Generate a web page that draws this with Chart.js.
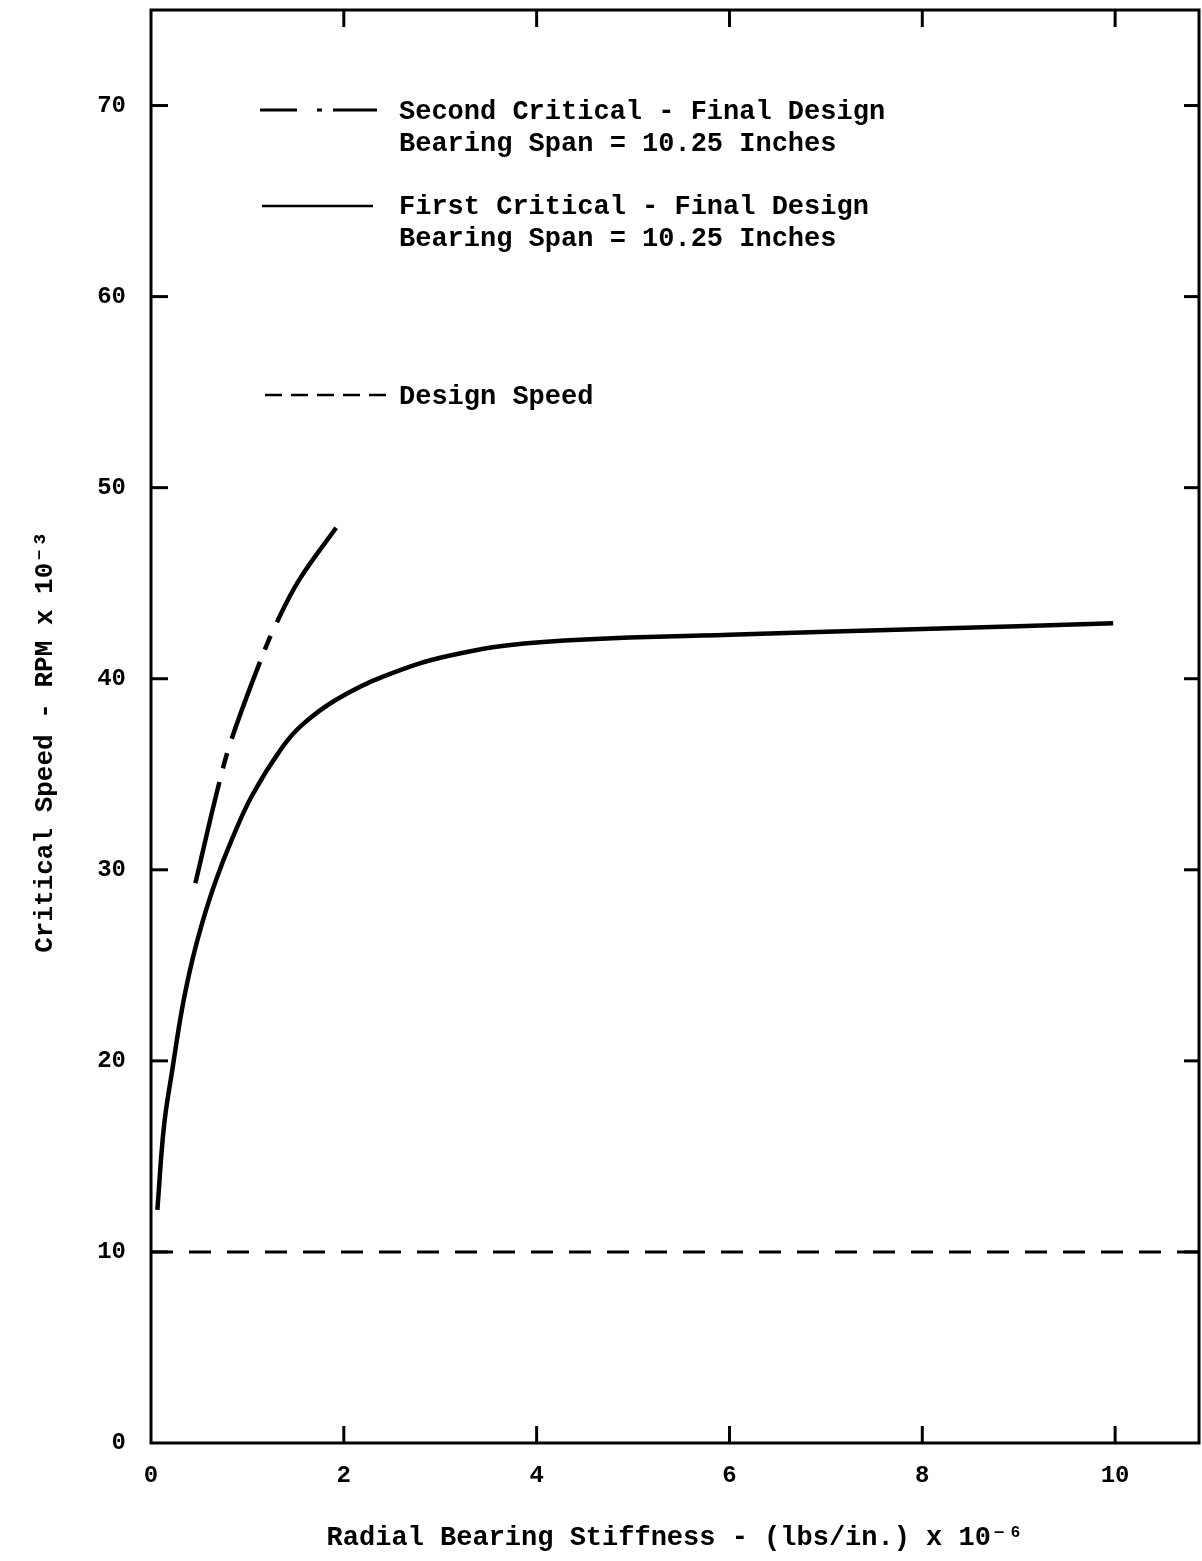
<!DOCTYPE html>
<html><head><meta charset="utf-8">
<script src="https://cdn.jsdelivr.net/npm/chart.js@4.4.0/dist/chart.umd.min.js"></script>
<style>html,body{margin:0;padding:0;background:#fff;}#wrap{width:1202px;height:1561px;}</style>
</head><body><div id="wrap"><canvas id="c" width="1202" height="1561"></canvas></div>
<script>
// ---- data ----
const xTickValues = [0, 2, 4, 6, 8, 10];
const xTickLabels = ['0', '2', '4', '6', '8', '10'];
const yTickValues = [0, 10, 20, 30, 40, 50, 60, 70];
const yTickLabels = ['0', '10', '20', '30', '40', '50', '60', '70'];

const firstCriticalX = [0.066, 0.135, 0.22, 0.325, 0.43, 0.53, 0.67, 0.84, 1.05, 1.36, 1.57, 1.92, 2.40, 3.09, 4.0, 6.0, 8.0, 9.98];
const firstCriticalY = [12.2, 16.6, 19.5, 22.8, 25.3, 27.2, 29.4, 31.6, 33.9, 36.4, 37.6, 38.9, 40.1, 41.2, 41.9, 42.3, 42.6, 42.9];

const secondCriticalX = [0.46, 0.71, 0.84, 1.14, 1.31, 1.54, 1.92];
const secondCriticalY = [29.3, 34.6, 36.9, 41.0, 43.0, 45.2, 47.9];

const designSpeedX = [0, 10.87];
const designSpeedY = [10, 10];

const seriesNames = ['Second Critical - Final Design', 'First Critical - Final Design', 'Design Speed'];
const legendSubtitle = 'Bearing Span = 10.25 Inches';

const xTitle = 'Radial Bearing Stiffness - (lbs/in.) x 10\u207B\u2076';
const yTitle = 'Critical Speed - RPM x 10\u207B\u00B3';

const xMin = 0, xMax = 10.87, yMin = 0, yMax = 75;

// ---- chart ----
const FONT = "'Liberation Mono', 'DejaVu Sans Mono', monospace";
Chart.defaults.font.family = FONT;
Chart.defaults.color = '#000';

const toPts = (xs, ys) => xs.map((x, i) => ({x: x, y: ys[i]}));

const SECOND_DASH = [104, 14, 16, 15, 82, 13, 15, 15, 160, 20];

const framePlugin = {
  id: 'frameTicks',
  afterDatasetsDraw(chart) {
    const {ctx, chartArea: a, scales: {x, y}} = chart;
    ctx.save();
    ctx.strokeStyle = '#000';
    ctx.lineWidth = 3;
    ctx.lineCap = 'butt';
    ctx.strokeRect(a.left, a.top, a.right - a.left, a.bottom - a.top);
    const line = (x1, y1, x2, y2) => { ctx.beginPath(); ctx.moveTo(x1, y1); ctx.lineTo(x2, y2); ctx.stroke(); };
    x.ticks.forEach(t => {
      if (t.value === 0) return;
      const px = x.getPixelForValue(t.value);
      line(px, a.bottom, px, a.bottom - 17);
      line(px, a.top, px, a.top + 17);
    });
    y.ticks.forEach(t => {
      if (t.value === 0) return;
      const py = y.getPixelForValue(t.value);
      line(a.left, py, a.left + 17, py);
      line(a.right, py, a.right - 15, py);
    });
    ctx.restore();
  }
};

const legendPlugin = {
  id: 'insideLegend',
  afterDraw(chart) {
    const ctx = chart.ctx;
    ctx.save();
    ctx.strokeStyle = '#000';
    ctx.fillStyle = '#000';
    ctx.lineCap = 'butt';
    ctx.lineWidth = 3;
    ctx.setLineDash([37, 20, 5, 11, 44, 0]);
    ctx.beginPath(); ctx.moveTo(260, 110); ctx.lineTo(377, 110); ctx.stroke();
    ctx.setLineDash([]);
    ctx.lineWidth = 2.5;
    ctx.beginPath(); ctx.moveTo(262, 206); ctx.lineTo(373, 206); ctx.stroke();
    ctx.setLineDash([17, 9]);
    ctx.lineWidth = 2.5;
    ctx.beginPath(); ctx.moveTo(265, 395); ctx.lineTo(387, 395); ctx.stroke();
    ctx.setLineDash([]);
    ctx.font = "bold 27px " + FONT;
    ctx.textAlign = 'left';
    ctx.textBaseline = 'alphabetic';
    ctx.fillText(seriesNames[0], 399, 119);
    ctx.fillText(legendSubtitle, 399, 151);
    ctx.fillText(seriesNames[1], 399, 214);
    ctx.fillText(legendSubtitle, 399, 246);
    ctx.fillText(seriesNames[2], 399, 404);
    ctx.restore();
  }
};

const zeroPad = s => { s.paddingTop = 0; s.paddingBottom = 0; s.paddingLeft = 0; s.paddingRight = 0; };

new Chart(document.getElementById('c'), {
  type: 'line',
  data: {
    datasets: [
      {
        label: seriesNames[0],
        data: toPts(secondCriticalX, secondCriticalY),
        borderColor: '#000', borderWidth: 4.5, borderDash: SECOND_DASH,
        pointRadius: 0, tension: 0.4, fill: false
      },
      {
        label: seriesNames[1],
        data: toPts(firstCriticalX, firstCriticalY),
        borderColor: '#000', borderWidth: 4.5,
        pointRadius: 0, tension: 0.4, fill: false
      },
      {
        label: seriesNames[2],
        data: toPts(designSpeedX, designSpeedY),
        borderColor: '#000', borderWidth: 3, borderDash: [22, 16],
        pointRadius: 0, fill: false
      }
    ]
  },
  options: {
    responsive: false,
    animation: false,
    devicePixelRatio: 1,
    layout: {padding: {top: 10, right: 3, left: 0, bottom: 0}},
    plugins: {legend: {display: false}, tooltip: {enabled: false}},
    scales: {
      x: {
        type: 'linear', min: xMin, max: xMax,
        grid: {display: false, drawTicks: false},
        border: {display: false},
        afterBuildTicks: s => { s.ticks = xTickValues.map(v => ({value: v})); },
        afterFit: s => { s.height = 118; zeroPad(s); },
        ticks: {
          padding: 19, maxRotation: 0, autoSkip: false,
          font: {size: 24, weight: 'bold'}, color: '#000',
          callback: v => { const i = xTickValues.indexOf(v); return i >= 0 ? xTickLabels[i] : ''; }
        },
        title: {display: true, text: xTitle, font: {size: 27, weight: 'bold'}, color: '#000', padding: {top: 0, bottom: 7}}
      },
      y: {
        type: 'linear', min: yMin, max: yMax,
        grid: {display: false, drawTicks: false},
        border: {display: false},
        afterBuildTicks: s => { s.ticks = yTickValues.map(v => ({value: v})); },
        afterFit: s => { s.width = 151; zeroPad(s); },
        ticks: {
          padding: 25, autoSkip: false,
          font: {size: 24, weight: 'bold'}, color: '#000',
          callback: v => { const i = yTickValues.indexOf(v); return i >= 0 ? yTickLabels[i] : ''; }
        },
        title: {display: true, text: yTitle + '  ', font: {size: 26, weight: 'bold'}, color: '#000', padding: {top: 30, bottom: 0}}
      }
    }
  },
  plugins: [framePlugin, legendPlugin]
});
</script>
</body></html>
